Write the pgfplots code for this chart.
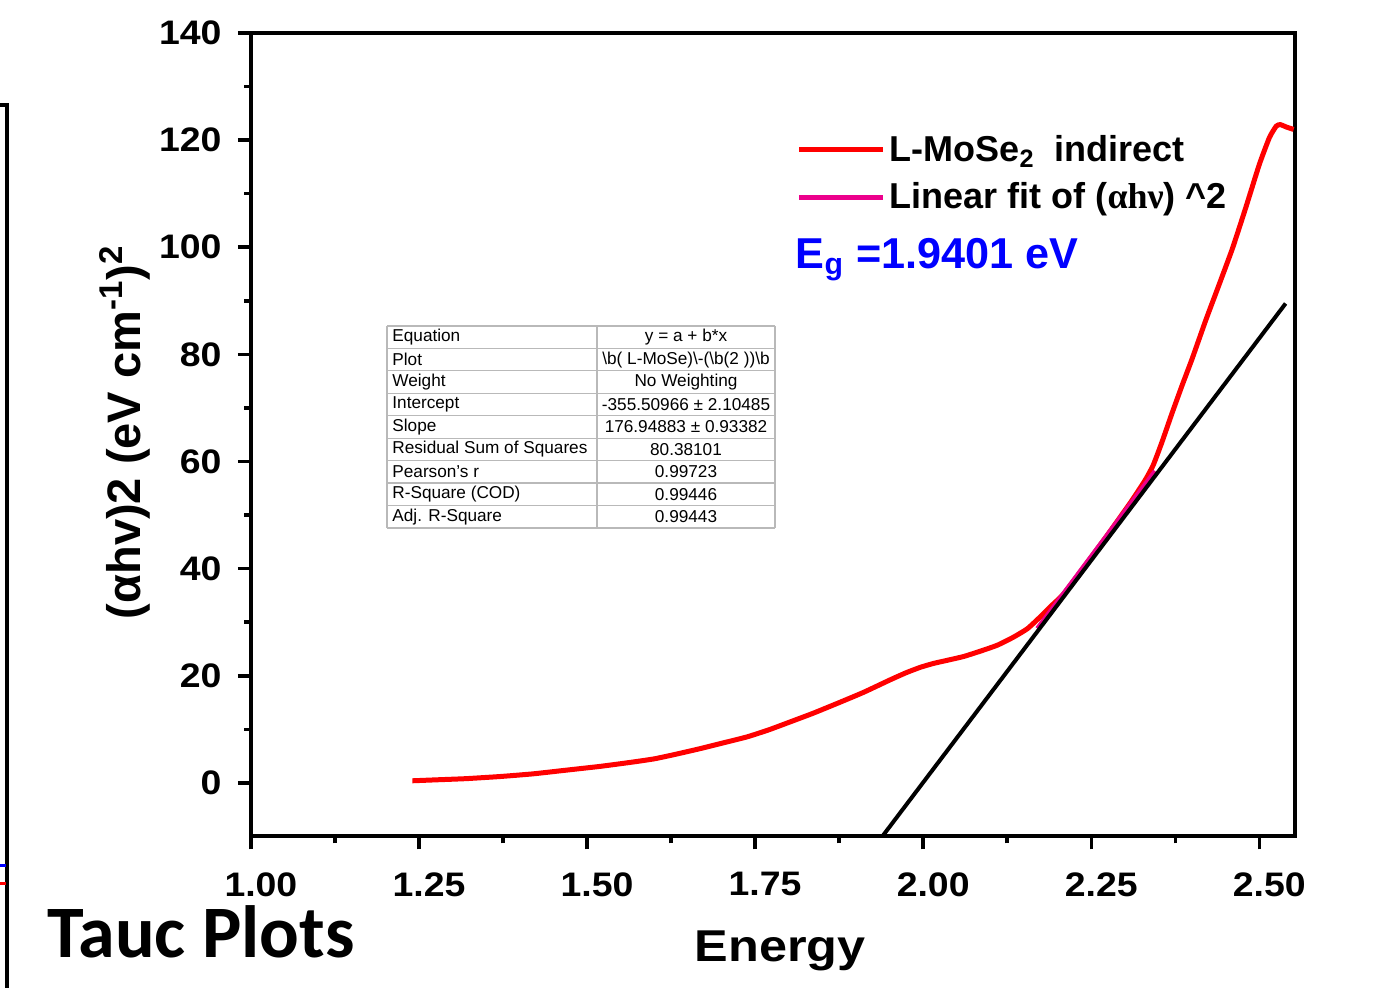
\documentclass[border=0pt]{standalone}
\usepackage{pgfplots}
\pgfplotsset{compat=1.18}
\usepackage{fontspec}
\setmainfont{Liberation Sans}
\newfontfamily\symfont{Liberation Serif}
\newfontfamily\calfont{Carlito}
\pgfplotstableread{
x y
1.240 0.4
1.280 0.6
1.320 0.8
1.371 1.2
1.420 1.7
1.470 2.4
1.520 3.1
1.568 3.9
1.600 4.5
1.630 5.3
1.668 6.4
1.700 7.4
1.738 8.6
1.770 9.9
1.800 11.3
1.836 13.0
1.875 15.0
1.911 16.9
1.950 19.2
1.975 20.6
1.996 21.6
2.015 22.3
2.036 22.9
2.060 23.6
2.085 24.6
2.110 25.7
2.134 27.2
2.155 28.8
2.174 31.0
2.190 33.0
2.209 35.3
2.240 40.5
2.270 45.6
2.308 52.3
2.330 56.5
2.342 59.3
2.355 63.6
2.370 69.0
2.385 74.2
2.400 79.2
2.420 86.3
2.440 93.0
2.460 99.8
2.480 107.5
2.500 115.5
2.515 120.5
2.525 122.6
2.531 122.9
2.541 122.4
2.551 122.0
}\redcurve
\begin{document}
\begin{tikzpicture}[x=1pt,y=1pt]
\path[use as bounding box] (0,0) rectangle (700,494);
\begin{axis}[
 at={(125.5pt,75.75pt)}, anchor=south west,
 scale only axis, width=522pt, height=401.75pt,
 xmin=1.0, xmax=2.553, ymin=-10, ymax=140,
 axis line style={line width=2pt},
 tick align=outside,
 xtick pos=left, ytick pos=left,
 xtick={1,1.25,1.5,1.75,2,2.25,2.5},
 ytick={0,20,40,60,80,100,120,140},
 minor x tick num=1, minor y tick num=1,
 major tick length=6.5pt, minor tick length=3.5pt,
 tick style={line width=1.8pt, black},
 xticklabel style={/pgf/number format/.cd, fixed, fixed zerofill, precision=2, /tikz/.cd, xshift=4.5pt, yshift=-8pt},
 yticklabel style={xshift=-4pt},
 /pgf/number format/assume math mode=true,
 ticklabel style={font=\bfseries\fontsize{17}{20}\selectfont, xscale=1.1},
 xlabel={Energy},
 xlabel style={font=\bfseries\fontsize{22.3}{26}\selectfont, xscale=1.13, at={(axis description cs:0.507,-0.156)}, anchor=base},
 ylabel={(αhv)2 (eV cm\textsuperscript{-1})\textsuperscript{2}},
 ylabel style={font=\bfseries\fontsize{23.5}{26}\selectfont, at={(axis description cs:-0.1207,0.503)}, anchor=center},
 clip=false,
 legend style={draw=none, fill=none, at={(axis cs:1.811,121.7)}, anchor=north west,
   font=\bfseries\fontsize{18}{22}\selectfont, row sep=5pt, inner sep=0pt},
 legend cell align=left,
 legend image code/.code={\draw[#1, line width=2.5pt] (0pt,0pt) -- (42pt,0pt);},
]
\addplot[red, line width=2.5pt, smooth, tension=0.3] table[x=x,y=y] {\redcurve};
\addlegendentry{L-MoSe\textsubscript{2}\ \ indirect}
\addplot[magenta, line width=2.5pt] coordinates {(2.17,28.8) (2.345,58.2)};
\addlegendentry{Linear fit of ({\symfont\bfseries αhν}) \textasciicircum 2}
\addplot[black, line width=2pt, forget plot] coordinates {(1.939,-10) (2.539,89.5)};
\node[anchor=base west, text=blue, font=\bfseries\fontsize{21.6}{26}\selectfont, inner sep=0pt] at (axis cs:1.81,96.1) {E\textsubscript{g} =1.9401 eV};
\end{axis}
% fit results table
\begin{scope}[font=\fontsize{8.6}{10}\selectfont]
\fill[white] (193.5,230) rectangle (387.5,331);
\foreach \k in {0,...,9} {\draw[gray!55, line width=0.6pt] (193.5,331-11.222*\k) -- (387.5,331-11.222*\k);}
\foreach \xx in {193.5,298.5,387.5} {\draw[gray!55, line width=0.6pt] (\xx,331) -- (\xx,230);}
\node[anchor=west, inner sep=0pt] at (196,325.39) {Equation};
\node[anchor=west, inner sep=0pt] at (196,314.17) {Plot};
\node[anchor=west, inner sep=0pt] at (196,302.95) {Weight};
\node[anchor=west, inner sep=0pt] at (196,291.73) {Intercept};
\node[anchor=west, inner sep=0pt] at (196,280.51) {Slope};
\node[anchor=west, inner sep=0pt] at (196,269.29) {Residual Sum of Squares};
\node[anchor=west, inner sep=0pt] at (196,258.07) {Pearson's r};
\node[anchor=west, inner sep=0pt] at (196,246.85) {R-Square (COD)};
\node[anchor=west, inner sep=0pt] at (196,235.63) {Adj. R-Square};
\node[inner sep=0pt] at (343,325.39) {y = a + b*x};
\node[inner sep=0pt] at (343,314.17) {\textbackslash b( L-MoSe)\textbackslash -(\textbackslash b(2 ))\textbackslash b};
\node[inner sep=0pt] at (343,302.95) {No Weighting};
\node[inner sep=0pt] at (343,291.73) {-355.50966 ± 2.10485};
\node[inner sep=0pt] at (343,280.51) {176.94883 ± 0.93382};
\node[inner sep=0pt] at (343,269.29) {80.38101};
\node[inner sep=0pt] at (343,258.07) {0.99723};
\node[inner sep=0pt] at (343,246.85) {0.99446};
\node[inner sep=0pt] at (343,235.63) {0.99443};
\end{scope}
% slide decorations
\node[anchor=base west, inner sep=0pt, font=\calfont\bfseries\fontsize{37}{40}\selectfont] at (23.5,15) {Tauc Plots};
\draw[line width=2pt] (0,441.5) -- (3.5,441.5) -- (3.5,0);
\draw[blue, line width=1.5pt] (0,61) -- (3,61);
\draw[red, line width=1.5pt] (0,52) -- (3,52);
\end{tikzpicture}
\end{document}
